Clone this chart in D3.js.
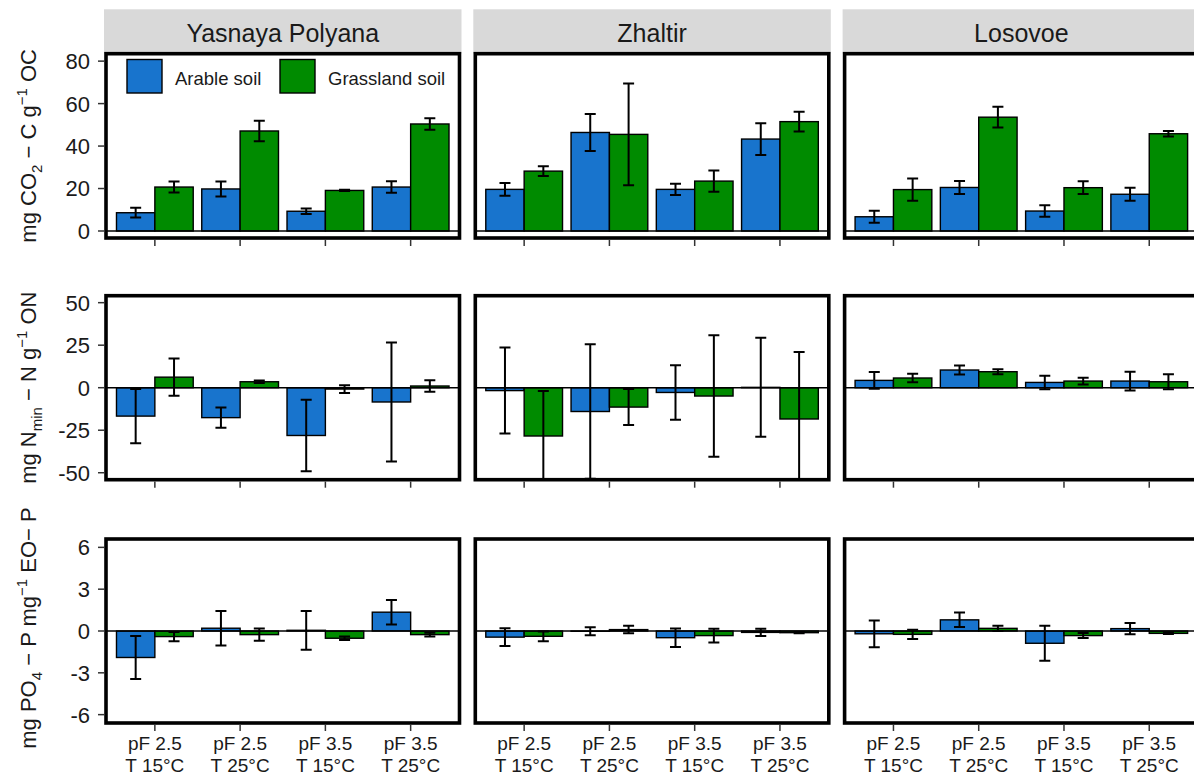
<!DOCTYPE html>
<html><head><meta charset="utf-8">
<script src="https://cdn.jsdelivr.net/npm/d3@7"></script>
<style>
body{margin:0;background:#fff}
svg{display:block}
text{font-family:"Liberation Sans",Arial,sans-serif;fill:#1a1a1a}
</style>
</head><body><svg id="c" width="1194" height="776"></svg>
<script>
// ---------------- data ----------------
const sites = ["Yasnaya Polyana", "Zhaltir", "Losovoe"];
const treatments = ["pF2.5_T15", "pF2.5_T25", "pF3.5_T15", "pF3.5_T25"];
const treatLine1 = ["pF 2.5", "pF 2.5", "pF 3.5", "pF 3.5"];
const treatLine2 = ["T 15°C", "T 25°C", "T 15°C", "T 25°C"];
const soils = ["Arable soil", "Grassland soil"];
const soilColors = ["#1874CD", "#008B00"];

// CO2 (per site: 4 treatments)
const co2ArableMean = [[8.6, 19.8, 9.3, 20.7], [19.6, 46.4, 19.6, 43.3], [6.7, 20.5, 9.4, 17.3]];
const co2ArableErr  = [[2.3, 3.5, 1.3, 2.7], [3.0, 8.7, 2.7, 7.5], [2.8, 3.1, 2.7, 3.1]];
const co2GrassMean  = [[20.7, 47.1, 19.1, 50.4], [28.2, 45.5, 23.5, 51.5], [19.5, 53.6, 20.4, 45.8]];
const co2GrassErr   = [[2.6, 4.8, 0.3, 2.7], [2.3, 24.0, 5.0, 4.7], [5.2, 4.9, 3.0, 1.3]];

// Nmin
const nArableMean = [[-16.7, -17.6, -28.1, -8.4], [-1.7, -14.0, -2.8, 0.2], [4.3, 10.4, 3.1, 3.9]];
const nArableErr  = [[16.0, 6.0, 21.0, 35.0], [25.3, 39.5, 16.0, 29.1], [4.9, 2.6, 4.0, 5.5]];
const nGrassMean  = [[6.2, 3.5, -0.8, 1.0], [-28.4, -11.4, -4.9, -18.4], [5.7, 9.4, 3.9, 3.5]];
const nGrassErr   = [[11.0, 0.8, 2.3, 3.4], [26.4, 10.6, 35.7, 39.4], [2.5, 1.5, 2.0, 4.4]];

// PO4
const pArableMean = [[-1.9, 0.2, 0.05, 1.35], [-0.44, -0.02, -0.48, -0.1], [-0.2, 0.8, -0.88, 0.17]];
const pArableErr  = [[1.55, 1.24, 1.39, 0.88], [0.63, 0.29, 0.66, 0.26], [0.96, 0.52, 1.25, 0.4]];
const pGrassMean  = [[-0.4, -0.26, -0.52, -0.26], [-0.38, 0.1, -0.33, -0.12], [-0.24, 0.19, -0.33, -0.17]];
const pGrassErr   = [[0.33, 0.44, 0.12, 0.13], [0.35, 0.27, 0.5, 0.05], [0.33, 0.19, 0.18, 0.05]];

const co2Ticks = [0, 20, 40, 60, 80];
const nTicks = [-50, -25, 0, 25, 50];
const pTicks = [-6, -3, 0, 3, 6];

// ---------------- build ----------------
const rowsData = [
  {mean: [co2ArableMean, co2GrassMean], err: [co2ArableErr, co2GrassErr], domain: [-3.3, 83.5], ticks: co2Ticks,
   title: [["mg CO", 0], ["2", -1], [" − C g", 0], ["−1", 1], [" OC", 0]]},
  {mean: [nArableMean, nGrassMean], err: [nArableErr, nGrassErr], domain: [-54.1, 54.1], ticks: nTicks,
   title: [["mg N", 0], ["min", -1], [" − N g", 0], ["−1", 1], [" ON", 0]]},
  {mean: [pArableMean, pGrassMean], err: [pArableErr, pGrassErr], domain: [-6.6, 6.6], ticks: pTicks,
   title: [["mg PO", 0], ["4", -1], [" − P mg", 0], ["−1", 1], [" EO− P", 0]]}
];

const svg = d3.select("#c");
const panelX0 = 106, panelStep = 369.3, panelW = 353.5;
const rowLayout = [{top: 53.7, h: 184.3}, {top: 295.7, h: 184}, {top: 539, h: 184}];

const defs = svg.append("defs");

rowsData.forEach((row, ri) => {
  const {top, h} = rowLayout[ri];
  const y = d3.scaleLinear().domain(row.domain).range([top + h, top]);

  // y title
  const cy = top + h / 2 - (ri === 2 ? 3 : 0);
  const t = svg.append("text")
    .attr("transform", `translate(36,${cy}) rotate(-90)`)
    .attr("text-anchor", "middle")
    .attr("font-size", 22);
  let prev = 0;
  row.title.forEach(([s, shift]) => {
    const dyv = shift === -1 ? 6 : shift === 1 ? -9 : 0;
    const ts = t.append("tspan").text(s).attr("dy", dyv - prev);
    if (shift !== 0) ts.attr("font-size", 15);
    prev = dyv;
  });

  sites.forEach((site, si) => {
    const left = panelX0 + si * panelStep;
    const x = d3.scaleBand().domain(treatments).range([left, left + panelW]).paddingInner(0.1).paddingOuter(0.123).align(0.5);
    const xs = d3.scaleBand().domain(soils).range([0, x.bandwidth()]);

    const clipId = `clip-${ri}-${si}`;
    defs.append("clipPath").attr("id", clipId).append("rect")
      .attr("x", left).attr("y", top).attr("width", panelW).attr("height", h);

    // strip
    if (ri === 0) {
      svg.append("rect").attr("x", left - 2).attr("y", 9.3).attr("width", panelW + 4).attr("height", top - 9.3)
        .attr("fill", "#D9D9D9");
      svg.append("text").attr("x", left + panelW / 2).attr("y", 41.5).attr("text-anchor", "middle")
        .attr("font-size", 25).text(site);
    }

    const g = svg.append("g").attr("clip-path", `url(#${clipId})`);
    const recs = [];
    soils.forEach((soil, k) => {
      treatments.forEach((tr, ti) => {
        recs.push({soil, k, tr, m: row.mean[k][si][ti], e: row.err[k][si][ti]});
      });
    });

    g.selectAll("rect.bar").data(recs).join("rect").attr("class", "bar")
      .attr("x", d => x(d.tr) + xs(d.soil))
      .attr("width", xs.bandwidth())
      .attr("y", d => y(Math.max(0, d.m)))
      .attr("height", d => Math.abs(y(d.m) - y(0)))
      .attr("fill", d => soilColors[d.k])
      .attr("stroke", "#000").attr("stroke-width", 1.4);

    g.append("line").attr("x1", left).attr("x2", left + panelW).attr("y1", y(0)).attr("y2", y(0))
      .attr("stroke", "#000").attr("stroke-width", 1.5);

    const capW = 11;
    const eb = g.selectAll("g.eb").data(recs).join("g").attr("class", "eb")
      .attr("stroke", "#000").attr("stroke-width", 2);
    eb.append("line")
      .attr("x1", d => x(d.tr) + xs(d.soil) + xs.bandwidth() / 2)
      .attr("x2", d => x(d.tr) + xs(d.soil) + xs.bandwidth() / 2)
      .attr("y1", d => y(d.m - d.e)).attr("y2", d => y(d.m + d.e));
    [-1, 1].forEach(sgn => {
      eb.append("line")
        .attr("x1", d => x(d.tr) + xs(d.soil) + xs.bandwidth() / 2 - capW / 2)
        .attr("x2", d => x(d.tr) + xs(d.soil) + xs.bandwidth() / 2 + capW / 2)
        .attr("y1", d => y(d.m + sgn * d.e)).attr("y2", d => y(d.m + sgn * d.e));
    });

    // panel border
    svg.append("rect").attr("x", left).attr("y", top).attr("width", panelW).attr("height", h)
      .attr("fill", "none").attr("stroke", "#000").attr("stroke-width", 3.6);

    // x ticks
    treatments.forEach((tr, ti) => {
      const cx = x(tr) + x.bandwidth() / 2;
      svg.append("line").attr("x1", cx).attr("x2", cx).attr("y1", top + h + 1.8).attr("y2", top + h + 8)
        .attr("stroke", "#333").attr("stroke-width", 1.5);
      if (ri === 2) {
        svg.append("text").attr("x", cx).attr("y", 749.5).attr("text-anchor", "middle")
          .attr("font-size", 19).text(treatLine1[ti]);
        svg.append("text").attr("x", cx).attr("y", 771.5).attr("text-anchor", "middle")
          .attr("font-size", 19).text(treatLine2[ti]);
      }
    });

    // y axis only on first column
    if (si === 0) {
      row.ticks.forEach(tv => {
        svg.append("line").attr("x1", left - 8).attr("x2", left - 1.8).attr("y1", y(tv)).attr("y2", y(tv))
          .attr("stroke", "#333").attr("stroke-width", 1.5);
        svg.append("text").attr("x", left - 16).attr("y", y(tv)).attr("dy", "0.36em")
          .attr("text-anchor", "end").attr("font-size", 22).text(String(tv));
      });
    }

    // legend
    if (ri === 0 && si === 0) {
      const lx = [127, 280], tx = [175, 328];
      soils.forEach((s, k) => {
        svg.append("rect").attr("x", lx[k]).attr("y", 59.5).attr("width", 35).attr("height", 33.5)
          .attr("fill", soilColors[k]).attr("stroke", "#000").attr("stroke-width", 1.4);
        svg.append("text").attr("x", tx[k]).attr("y", 84.5).attr("font-size", 18.5).text(s);
      });
    }
  });
});
</script>
</body></html>
